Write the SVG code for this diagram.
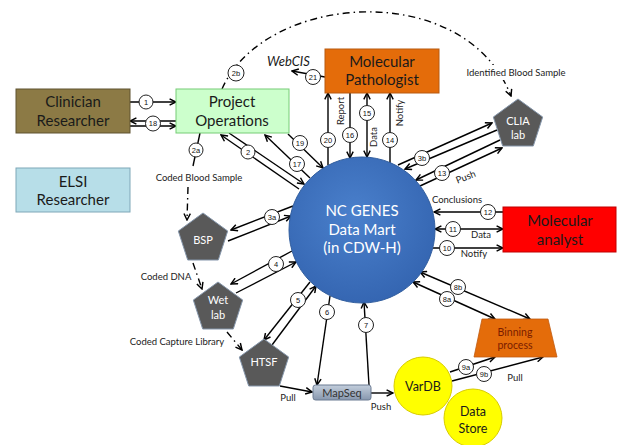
<svg xmlns="http://www.w3.org/2000/svg" width="618" height="445" viewBox="0 0 618 445">
<style>
.lbl{font-family:Lato,"Liberation Sans",sans-serif;fill:#1a1a1a;text-anchor:middle}
.big{font-size:15px}
.wt{fill:#fff}
.sm{font-family:Lato,"Liberation Sans",sans-serif;font-size:9.5px;fill:#222;text-anchor:middle}
.ln{stroke:#000;stroke-width:1.4;fill:none}
.e{marker-end:url(#ah)}
.b{marker-start:url(#ah);marker-end:url(#ah)}
.dd{stroke:#000;stroke-width:1.4;fill:none;stroke-dasharray:7 4 1.5 4}
.num circle{fill:#fff;stroke:#222;stroke-width:1}
.num text{font-family:"Liberation Sans",sans-serif;font-size:7.5px;fill:#111;text-anchor:middle}
.pent{fill:#595959;stroke:#8596ab;stroke-width:1}
</style>
<defs>
<marker id="ah" viewBox="0 0 10 10" refX="9" refY="5" markerWidth="8" markerHeight="8" markerUnits="userSpaceOnUse" orient="auto-start-reverse">
<path d="M1,1 L9,5 L1,9" fill="none" stroke="#000" stroke-width="1.8"/>
</marker>
<radialGradient id="gBlue" cx="0.45" cy="0.4" r="0.6">
<stop offset="0" stop-color="#4a80cc"/>
<stop offset="1" stop-color="#3566b2"/>
</radialGradient>
<linearGradient id="gMap" x1="0" y1="0" x2="0" y2="1">
<stop offset="0" stop-color="#c3cedc"/>
<stop offset="1" stop-color="#8797ae"/>
</linearGradient>
</defs>
<rect width="618" height="445" fill="#fff"/>

<g id="connectors">
<path class="dd" d="M222 89 C265 -8,465 -22,511 96" marker-end="url(#ah)"/>
<rect x="463" y="65" width="107" height="15" fill="#fff"/>
<text class="sm" x="516" y="76">Identified Blood Sample</text>
<line class="ln e" x1="130" y1="102" x2="176" y2="102"/>
<line class="ln e" x1="176" y1="121" x2="130" y2="121"/>
<line class="ln e" x1="130" y1="126" x2="176" y2="126"/>
<line class="ln" x1="200" y1="133" x2="193" y2="166"/>
<path class="dd" d="M188 187 L187 220" stroke-dasharray="5 4 1.5 4" marker-end="url(#ah)"/>
<text class="sm" x="199" y="181">Coded Blood Sample</text>
<path class="dd" d="M193 263 L202 289" stroke-dasharray="1.5 6 20" marker-end="url(#ah)"/>
<text class="sm" x="166" y="280">Coded DNA</text>
<path class="dd" d="M227 332 L242 350" stroke-dasharray="1.5 5 20" marker-end="url(#ah)"/>
<text class="sm" x="177" y="345">Coded Capture Library</text>
<line class="ln e" x1="299" y1="189" x2="221" y2="135"/>
<line class="ln e" x1="229" y1="133" x2="304" y2="184"/>
<line class="ln e" x1="310" y1="178" x2="265" y2="135"/>
<line class="ln e" x1="288" y1="134" x2="323" y2="168"/>
<line class="ln e" x1="328" y1="165" x2="328" y2="93"/>
<line class="ln e" x1="350" y1="93" x2="350" y2="158"/>
<line class="ln b" x1="367" y1="93" x2="367" y2="157"/>
<line class="ln e" x1="390" y1="163" x2="390" y2="93"/>
<text class="sm" transform="translate(344 111) rotate(-90)">Report</text>
<text class="sm" transform="translate(377 137) rotate(-90)">Data</text>
<text class="sm" transform="translate(403 113) rotate(-90)">Notify</text>
<line class="ln e" x1="325" y1="77" x2="292" y2="71"/>
<text x="267" y="66" font-family="Lato,'Liberation Sans',sans-serif" font-size="13" font-style="italic" fill="#1a1a1a">WebCIS</text>
<line class="ln e" x1="398" y1="165" x2="492" y2="123"/>
<line class="ln e" x1="497" y1="130" x2="405" y2="169"/>
<line class="ln e" x1="500" y1="140" x2="416" y2="180"/>
<line class="ln e" x1="420" y1="186" x2="502" y2="148"/>
<text class="sm" transform="translate(467 180) rotate(-22)">Push</text>
<line class="ln e" x1="503" y1="212" x2="434" y2="212"/>
<line class="ln b" x1="435" y1="229" x2="503" y2="229"/>
<line class="ln e" x1="433" y1="248" x2="503" y2="248"/>
<text class="sm" x="457" y="203">Conclusions</text>
<text class="sm" x="481" y="238">Data</text>
<text class="sm" x="474" y="257">Notify</text>
<line class="ln b" x1="420" y1="272" x2="530" y2="319"/>
<line class="ln b" x1="413" y1="282" x2="495" y2="319"/>
<line class="ln e" x1="450" y1="372" x2="495" y2="357"/>
<line class="ln e" x1="452" y1="381" x2="543" y2="357"/>
<text class="sm" x="515" y="381">Pull</text>
<line class="ln e" x1="293" y1="206" x2="231" y2="230"/>
<line class="ln e" x1="228" y1="241" x2="291" y2="216"/>
<line class="ln e" x1="292" y1="251" x2="231" y2="284"/>
<line class="ln e" x1="236" y1="293" x2="296" y2="262"/>
<line class="ln e" x1="310" y1="282" x2="264" y2="340"/>
<line class="ln e" x1="272" y1="345" x2="316" y2="286"/>
<line class="ln e" x1="330" y1="296" x2="317" y2="385"/>
<line class="ln e" x1="369" y1="385" x2="364" y2="302"/>
<line class="ln e" x1="280" y1="386" x2="312" y2="392"/>
<text class="sm" x="288" y="401">Pull</text>
<line class="ln e" x1="371" y1="393" x2="393" y2="393"/>
<text class="sm" x="381" y="410">Push</text>
<g class="num"><circle cx="146" cy="102" r="7"/><text x="146" y="104.7">1</text></g>
<g class="num"><circle cx="153" cy="123.5" r="7.5"/><text x="153" y="126.2">18</text></g>
<g class="num"><circle cx="236" cy="73" r="8"/><text x="236" y="75.7">2b</text></g>
<g class="num"><circle cx="196" cy="150" r="7"/><text x="196" y="152.7">2a</text></g>
<g class="num"><circle cx="248" cy="152" r="7"/><text x="248" y="154.7">2</text></g>
<g class="num"><circle cx="297" cy="164" r="7.5"/><text x="297" y="166.7">17</text></g>
<g class="num"><circle cx="300" cy="143" r="7.5"/><text x="300" y="145.7">19</text></g>
<g class="num"><circle cx="328" cy="140" r="7.5"/><text x="328" y="142.7">20</text></g>
<g class="num"><circle cx="350" cy="135" r="7.5"/><text x="350" y="137.7">16</text></g>
<g class="num"><circle cx="367" cy="113" r="7.5"/><text x="367" y="115.7">15</text></g>
<g class="num"><circle cx="390" cy="140" r="7.5"/><text x="390" y="142.7">14</text></g>
<g class="num"><circle cx="313" cy="77" r="7.5"/><text x="313" y="79.7">21</text></g>
<g class="num"><circle cx="422" cy="158" r="7.5"/><text x="422" y="160.7">3b</text></g>
<g class="num"><circle cx="442" cy="173" r="7.5"/><text x="442" y="175.7">13</text></g>
<g class="num"><circle cx="488" cy="212" r="7.5"/><text x="488" y="214.7">12</text></g>
<g class="num"><circle cx="453" cy="229" r="7.5"/><text x="453" y="231.7">11</text></g>
<g class="num"><circle cx="447" cy="248" r="7.5"/><text x="447" y="250.7">10</text></g>
<g class="num"><circle cx="458" cy="287" r="7.5"/><text x="458" y="289.7">8b</text></g>
<g class="num"><circle cx="447" cy="299" r="7.5"/><text x="447" y="301.7">8a</text></g>
<g class="num"><circle cx="466" cy="367" r="7.5"/><text x="466" y="369.7">9a</text></g>
<g class="num"><circle cx="484" cy="374" r="7.5"/><text x="484" y="376.7">9b</text></g>
<g class="num"><circle cx="272" cy="217" r="7.5"/><text x="272" y="219.7">3a</text></g>
<g class="num"><circle cx="276" cy="264" r="7.5"/><text x="276" y="266.7">4</text></g>
<g class="num"><circle cx="298" cy="300" r="7.5"/><text x="298" y="302.7">5</text></g>
<g class="num"><circle cx="327" cy="312" r="7.5"/><text x="327" y="314.7">6</text></g>
<g class="num"><circle cx="366" cy="325" r="7.5"/><text x="366" y="327.7">7</text></g>
</g>

<g id="clinician">
<rect x="16" y="89" width="114" height="44" fill="#8c7a45" stroke="#5e5230" stroke-width="1"/>
<text class="lbl big" x="73" y="107">Clinician</text>
<text class="lbl big" x="73" y="126">Researcher</text>
</g>
<g id="project-operations">
<rect x="176" y="89" width="113" height="44" fill="#ccffcc" stroke="#77cc77" stroke-width="1"/>
<text class="lbl big" x="232" y="107">Project</text>
<text class="lbl big" x="232" y="126">Operations</text>
</g>
<g id="elsi">
<rect x="16" y="168" width="114" height="44" fill="#b7dee8" stroke="#7fa7b8" stroke-width="1"/>
<text class="lbl big" x="73" y="187">ELSI</text>
<text class="lbl big" x="73" y="205">Researcher</text>
</g>
<g id="molecular-pathologist">
<rect x="325" y="49" width="114" height="44" fill="#e46c0a" stroke="#b85a10" stroke-width="1"/>
<text class="lbl big" x="382" y="67">Molecular</text>
<text class="lbl big" x="382" y="85">Pathologist</text>
</g>
<g id="molecular-analyst">
<rect x="503" y="207" width="113" height="45" fill="#ff0000" stroke="#c00000" stroke-width="1"/>
<text class="lbl big" x="560" y="226">Molecular</text>
<text class="lbl big" x="560" y="245">analyst</text>
</g>
<g id="data-mart">
<circle cx="362" cy="230" r="73" fill="url(#gBlue)" stroke="#305d9e" stroke-width="1"/>
<text class="lbl big wt" x="362" y="216">NC GENES</text>
<text class="lbl big wt" x="362" y="234.5">Data Mart</text>
<text class="lbl big wt" x="362" y="253">(in CDW-H)</text>
</g>
<g id="clia-lab">
<polygon class="pent" points="518,99 542.7,117 533.3,146 502.7,146 493.3,117"/>
<text class="lbl wt" font-size="11" x="518" y="125">CLIA</text>
<text class="lbl wt" font-size="11" x="518" y="139">lab</text>
</g>
<g id="bsp">
<polygon class="pent" points="203,213 227.7,231 218.3,260 187.7,260 178.3,231"/>
<text class="lbl wt" font-size="11" x="203" y="244">BSP</text>
</g>
<g id="wet-lab">
<polygon class="pent" points="218,282 242.7,300 233.3,329 202.7,329 193.3,300"/>
<text class="lbl wt" font-size="11" x="218" y="304">Wet</text>
<text class="lbl wt" font-size="11" x="218" y="319">lab</text>
</g>
<g id="htsf">
<polygon class="pent" points="264,339 288.7,357 279.3,386 248.7,386 239.3,357"/>
<text class="lbl wt" font-size="11" x="264" y="366">HTSF</text>
</g>
<g id="mapseq">
<rect x="313" y="385" width="58" height="15" rx="2.5" fill="url(#gMap)" stroke="#6b7b92" stroke-width="1"/>
<text class="lbl" font-size="11" x="342" y="396.5" style="fill:#333">MapSeq</text>
</g>
<g id="binning">
<polygon points="482,319 548,319 557,357 474,357" fill="#e46c0a" stroke="#c05a10" stroke-width="0.8"/>
<text class="lbl" font-size="10.5" x="515" y="336" style="fill:#7a1c00">Binning</text>
<text class="lbl" font-size="10.5" x="515" y="349" style="fill:#7a1c00">process</text>
</g>
<g id="vardb">
<circle cx="423" cy="386" r="29" fill="#ffff00" stroke="#d8cc00" stroke-width="1"/>
<text class="lbl" font-size="12.5" x="423" y="391">VarDB</text>
</g>
<g id="data-store">
<circle cx="473" cy="418" r="29" fill="#ffff00" stroke="#d8cc00" stroke-width="1"/>
<text class="lbl" font-size="12.5" x="473" y="416">Data</text>
<text class="lbl" font-size="12.5" x="473" y="433">Store</text>
</g>
</svg>
